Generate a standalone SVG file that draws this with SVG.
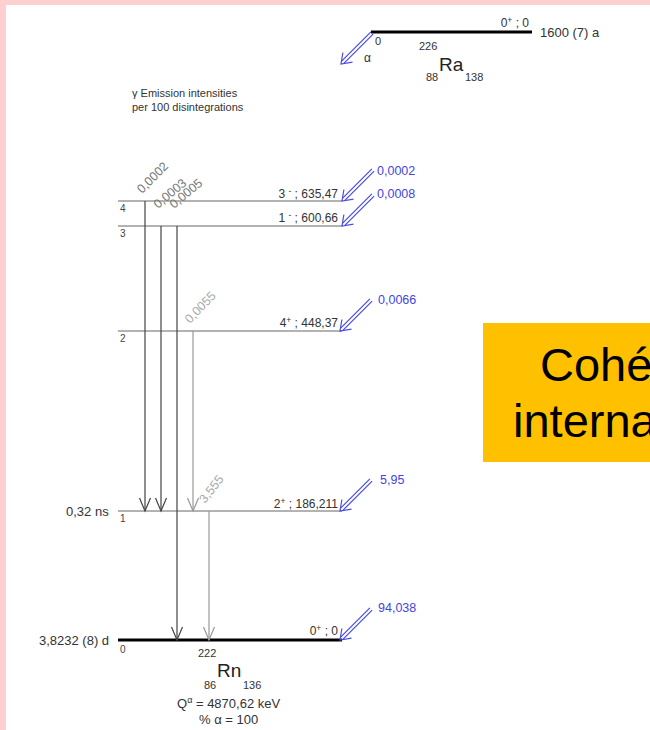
<svg xmlns="http://www.w3.org/2000/svg" width="650" height="730" viewBox="0 0 650 730">
  <style>
    text { font-family: "Liberation Sans", Arial, sans-serif; fill: #333; }
    .lvl { stroke: #666; stroke-width: 1; }
    .gs { stroke: #000; stroke-width: 3; }
    .lbl { font-size: 12px; text-anchor: end; }
    .side { font-size: 13px; }
    .num { font-size: 10px; fill: #444; }
    .blue { font-size: 12.5px; fill: #4444e0; }
    .feed { fill: none; stroke: #4a4ae6; stroke-width: 1.2; }
    .tdark { stroke: #444; stroke-width: 1.2; fill: none; }
    .tgray { stroke: #999; stroke-width: 1.2; fill: none; }
    .rdark { font-size: 12.5px; fill: #777; }
    .rgray { font-size: 12.5px; fill: #aaa; }
    .iso { font-size: 11px; }
    .sym { font-size: 19px; fill: #222; }
  </style>
  <defs>
    <marker id="hd" markerUnits="userSpaceOnUse" markerWidth="30" markerHeight="30" orient="auto" overflow="visible">
      <path d="M-13,-5.5 L0,0 L-13,5.5" fill="none" stroke="#444" stroke-width="1.2"/>
    </marker>
    <marker id="hg" markerUnits="userSpaceOnUse" markerWidth="30" markerHeight="30" orient="auto" overflow="visible">
      <path d="M-13,-5.5 L0,0 L-13,5.5" fill="none" stroke="#999" stroke-width="1.2"/>
    </marker>
    <!-- hollow double-shaft arrow, tip at origin, pointing down-left -->
    <g id="feed" class="feed">
      <path d="M32.1,-29.9 L2.6,-0.4 M29.9,-32.1 L0.4,-2.6"/>
      <path d="M1.9,-11.5 L0,0 L11.5,-1.9"/>
    </g>
  </defs>

  <!-- page background -->
  <rect x="0" y="0" width="650" height="730" fill="#fdcfcf"/>
  <rect x="6" y="5" width="644" height="725" fill="#ffffff"/>

  <!-- parent nucleus -->
  <g id="ra226">
    <line class="gs" x1="371" y1="32" x2="532" y2="32"/>
    <text class="lbl" x="529" y="27">0<tspan font-size="8.5" dy="-4">+</tspan><tspan dy="4"> ; 0</tspan></text>
    <text class="side" x="540" y="37">1600 (7) a</text>
    <text class="iso" x="375" y="45">0</text>
    <text class="iso" x="419" y="50">226</text>
    <text class="sym" x="439" y="71">Ra</text>
    <text class="iso" x="426" y="81">88</text>
    <text class="iso" x="465" y="81">138</text>
    <use href="#feed" x="341" y="64"/>
    <text x="364" y="62" font-size="12" fill="#4444e0">α</text>
  </g>

  <g id="legend">
    <text x="132" y="97" font-size="11">γ Emission intensities</text>
    <text x="132" y="111" font-size="11">per 100 disintegrations</text>
  </g>

  <!-- daughter levels -->
  <g id="level4">
    <line class="lvl" x1="118" y1="201" x2="342" y2="201"/>
    <text class="num" x="120" y="212">4</text>
    <text class="lbl" x="338" y="198">3 <tspan font-size="8.5" dy="-4">-</tspan><tspan dy="4"> ; 635,47</tspan></text>
    <use href="#feed" x="342" y="201"/>
    <text class="blue" x="377" y="175">0,0002</text>
  </g>
  <g id="level3">
    <line class="lvl" x1="118" y1="226" x2="342" y2="226"/>
    <text class="num" x="120" y="237">3</text>
    <text class="lbl" x="338" y="222">1 <tspan font-size="8.5" dy="-4">-</tspan><tspan dy="4"> ; 600,66</tspan></text>
    <use href="#feed" x="342" y="226"/>
    <text class="blue" x="377" y="198">0,0008</text>
  </g>
  <g id="level2">
    <line class="lvl" x1="118" y1="331" x2="342" y2="331"/>
    <text class="num" x="120" y="342">2</text>
    <text class="lbl" x="338" y="327">4<tspan font-size="8.5" dy="-4">+</tspan><tspan dy="4"> ; 448,37</tspan></text>
    <use href="#feed" x="340" y="331"/>
    <text class="blue" x="378" y="304">0,0066</text>
  </g>
  <g id="level1">
    <line class="lvl" x1="118" y1="511" x2="342" y2="511"/>
    <text class="num" x="120" y="522">1</text>
    <text class="side" x="66" y="516">0,32 ns</text>
    <text class="lbl" x="338" y="508">2<tspan font-size="8.5" dy="-4">+</tspan><tspan dy="4"> ; 186,211</tspan></text>
    <use href="#feed" x="340" y="511"/>
    <text class="blue" x="380" y="484">5,95</text>
  </g>
  <g id="level0">
    <line class="gs" x1="118" y1="640" x2="342" y2="640"/>
    <text class="num" x="120" y="653">0</text>
    <text class="side" x="39" y="645">3,8232 (8) d</text>
    <text class="lbl" x="338" y="635">0<tspan font-size="8.5" dy="-4">+</tspan><tspan dy="4"> ; 0</tspan></text>
    <use href="#feed" x="340" y="640"/>
    <text class="blue" x="378" y="612">94,038</text>
    <text class="iso" x="198" y="657">222</text>
    <text class="sym" x="217" y="677">Rn</text>
    <text class="iso" x="204" y="689">86</text>
    <text class="iso" x="243" y="689">136</text>
    <text class="side" x="177" y="708">Q<tspan font-size="9" dy="-5">α</tspan><tspan dy="5"> = 4870,62 keV</tspan></text>
    <text class="side" x="199" y="724">% α = 100</text>
  </g>

  <!-- gamma transitions -->
  <g id="transitions">
    <line class="tdark" x1="145" y1="201" x2="145" y2="511" marker-end="url(#hd)"/>
    <line class="tdark" x1="161" y1="226" x2="161" y2="511" marker-end="url(#hd)"/>
    <line class="tdark" x1="177" y1="226" x2="177" y2="640" marker-end="url(#hd)"/>
    <line class="tgray" x1="193" y1="331" x2="193" y2="511" marker-end="url(#hg)"/>
    <line class="tgray" x1="209" y1="511" x2="209" y2="640" marker-end="url(#hg)"/>
    <text class="rdark" transform="translate(142,194) rotate(-45)">0,0002</text>
    <text class="rdark" transform="translate(158,209) rotate(-40)">0,0003</text>
    <text class="rdark" transform="translate(174,209) rotate(-40)">0,0005</text>
    <text class="rgray" transform="translate(190,324) rotate(-46)">0,0055</text>
    <text class="rgray" transform="translate(205,504) rotate(-52)">3,555</text>
  </g>

  <!-- callout -->
  <g id="note">
    <rect x="483" y="323" width="180" height="139" fill="#ffc000"/>
    <text x="540" y="381" font-size="47" style="fill:#000">Cohé</text>
    <text x="513" y="437" font-size="47" style="fill:#000">interna</text>
  </g>
</svg>
